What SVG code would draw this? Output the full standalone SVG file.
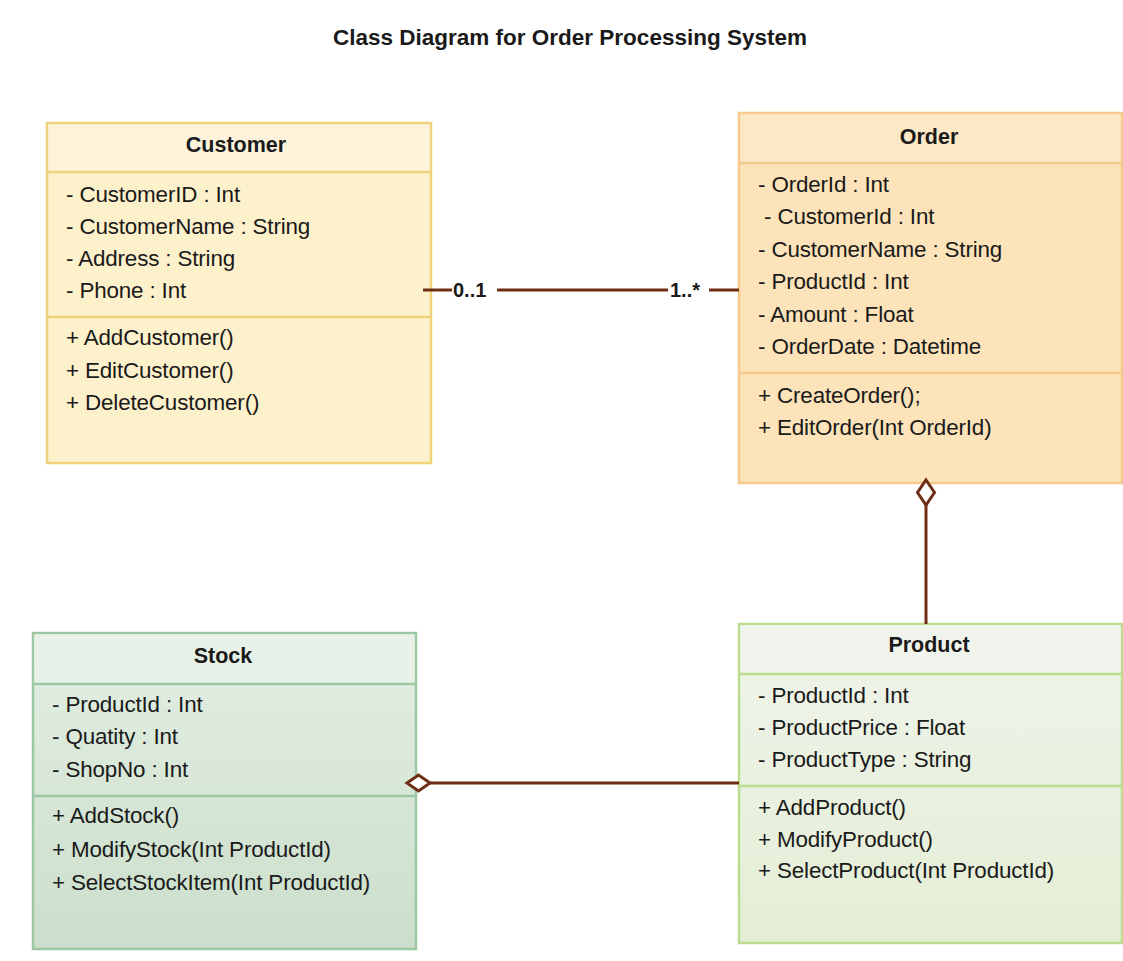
<svg xmlns="http://www.w3.org/2000/svg" width="1123" height="961" viewBox="0 0 1123 961">
  <defs>
    <style>
      text { font-family: "Liberation Sans", Arial, sans-serif; fill: #1a1a1a; }
      .title { font-size: 22.5px; font-weight: bold; text-anchor: middle; }
      .name { font-size: 21.5px; font-weight: bold; text-anchor: middle; }
      .item { font-size: 22.4px; letter-spacing: -0.15px; }
      .mult { font-size: 20px; font-weight: bold; }
      .edge { stroke: #6e2e14; stroke-width: 3; fill: none; }
      .diamond { stroke: #6e2e14; stroke-width: 3; fill: #ffffff; }
      .cust-box { fill: #fdf1cc; stroke: #f0d27c; stroke-width: 2.5; }
      .cust-head { fill: #fcf3da; }
      .cust-line { stroke: #f0d27c; stroke-width: 2.5; }
      .ord-box { fill: #fde3b9; stroke: #f5cb8c; stroke-width: 2.5; }
      .ord-head { fill: #fde8c6; }
      .ord-line { stroke: #f3c98c; stroke-width: 2.5; }
      .stk-box { fill: url(#stkFill); stroke: #9cc7a4; stroke-width: 2.5; }
      .stk-head { fill: #e8f1e8; }
      .stk-line { stroke: #9cc7a4; stroke-width: 2.5; }
      .prd-box { fill: url(#prdFill); stroke: #bcdc8e; stroke-width: 2.5; }
      .prd-head { fill: #f1f3ed; }
      .prd-line { stroke: #bcdc8e; stroke-width: 2.5; }
    </style>
    <linearGradient id="stkFill" x1="0" y1="0" x2="0" y2="1">
      <stop offset="0" stop-color="#e3efe3"/>
      <stop offset="1" stop-color="#cbdecb"/>
    </linearGradient>
    <linearGradient id="prdFill" x1="0" y1="0" x2="0" y2="1">
      <stop offset="0" stop-color="#f0f4ea"/>
      <stop offset="1" stop-color="#e4eed6"/>
    </linearGradient>
  </defs>

  <rect x="0" y="0" width="1123" height="961" fill="#ffffff"/>

  <text class="title" x="570" y="45">Class Diagram for Order Processing System</text>

  <!-- Customer class -->
  <g id="customer">
    <rect class="cust-box" x="47" y="123" width="384" height="340"/>
    <rect class="cust-head" x="48.5" y="124.5" width="381" height="47"/>
    <line class="cust-line" x1="47" y1="172" x2="431" y2="172"/>
    <line class="cust-line" x1="47" y1="317" x2="431" y2="317"/>
    <text class="name" x="236" y="152">Customer</text>
    <text class="item" x="66" y="202">- CustomerID : Int</text>
    <text class="item" x="66" y="234">- CustomerName : String</text>
    <text class="item" x="66" y="266">- Address : String</text>
    <text class="item" x="66" y="298">- Phone : Int</text>
    <text class="item" x="66" y="345">+ AddCustomer()</text>
    <text class="item" x="66" y="378">+ EditCustomer()</text>
    <text class="item" x="66" y="410">+ DeleteCustomer()</text>
  </g>

  <!-- Order class -->
  <g id="order">
    <rect class="ord-box" x="739" y="113" width="383" height="370"/>
    <rect class="ord-head" x="740.5" y="114.5" width="380" height="48"/>
    <line class="ord-line" x1="739" y1="163" x2="1122" y2="163"/>
    <line class="ord-line" x1="739" y1="373" x2="1122" y2="373"/>
    <text class="name" x="929" y="144">Order</text>
    <text class="item" x="758" y="192">- OrderId : Int</text>
    <text class="item" x="764" y="224">- CustomerId : Int</text>
    <text class="item" x="758" y="257">- CustomerName : String</text>
    <text class="item" x="758" y="289">- ProductId : Int</text>
    <text class="item" x="758" y="322">- Amount : Float</text>
    <text class="item" x="758" y="354">- OrderDate : Datetime</text>
    <text class="item" x="758" y="403">+ CreateOrder();</text>
    <text class="item" x="758" y="435">+ EditOrder(Int OrderId)</text>
  </g>

  <!-- Stock class -->
  <g id="stock">
    <rect class="stk-box" x="33" y="633" width="383" height="316"/>
    <rect class="stk-head" x="34.5" y="634.5" width="380" height="49"/>
    <line class="stk-line" x1="33" y1="684" x2="416" y2="684"/>
    <line class="stk-line" x1="33" y1="796" x2="416" y2="796"/>
    <text class="name" x="223" y="663">Stock</text>
    <text class="item" x="52" y="712">- ProductId : Int</text>
    <text class="item" x="52" y="744">- Quatity : Int</text>
    <text class="item" x="52" y="777">- ShopNo : Int</text>
    <text class="item" x="52" y="823">+ AddStock()</text>
    <text class="item" x="52" y="857">+ ModifyStock(Int ProductId)</text>
    <text class="item" x="52" y="890">+ SelectStockItem(Int ProductId)</text>
  </g>

  <!-- Product class -->
  <g id="product">
    <rect class="prd-box" x="739" y="624" width="383" height="319"/>
    <rect class="prd-head" x="740.5" y="625.5" width="380" height="48"/>
    <line class="prd-line" x1="739" y1="674" x2="1122" y2="674"/>
    <line class="prd-line" x1="739" y1="786" x2="1122" y2="786"/>
    <text class="name" x="929" y="652">Product</text>
    <text class="item" x="758" y="703">- ProductId : Int</text>
    <text class="item" x="758" y="735">- ProductPrice : Float</text>
    <text class="item" x="758" y="767">- ProductType : String</text>
    <text class="item" x="758" y="815">+ AddProduct()</text>
    <text class="item" x="758" y="847">+ ModifyProduct()</text>
    <text class="item" x="758" y="878">+ SelectProduct(Int ProductId)</text>
  </g>

  <!-- Relationships -->
  <g id="connectors">
    <!-- Customer 0..1 — 1..* Order -->
    <line class="edge" x1="423" y1="290" x2="452" y2="290"/>
    <line class="edge" x1="497" y1="290" x2="668" y2="290"/>
    <line class="edge" x1="709" y1="290" x2="739" y2="290"/>
    <text class="mult" x="453" y="297">0..1</text>
    <text class="mult" x="670" y="297">1..*</text>

    <!-- Order ◇— Product -->
    <line class="edge" x1="926" y1="505" x2="926" y2="624"/>
    <polygon class="diamond" points="926,480 934.5,492.5 926,505 917.5,492.5"/>

    <!-- Stock ◇— Product -->
    <line class="edge" x1="430" y1="783" x2="739" y2="783"/>
    <polygon class="diamond" points="407,783 418.5,775 430,783 418.5,791"/>
  </g>
</svg>
